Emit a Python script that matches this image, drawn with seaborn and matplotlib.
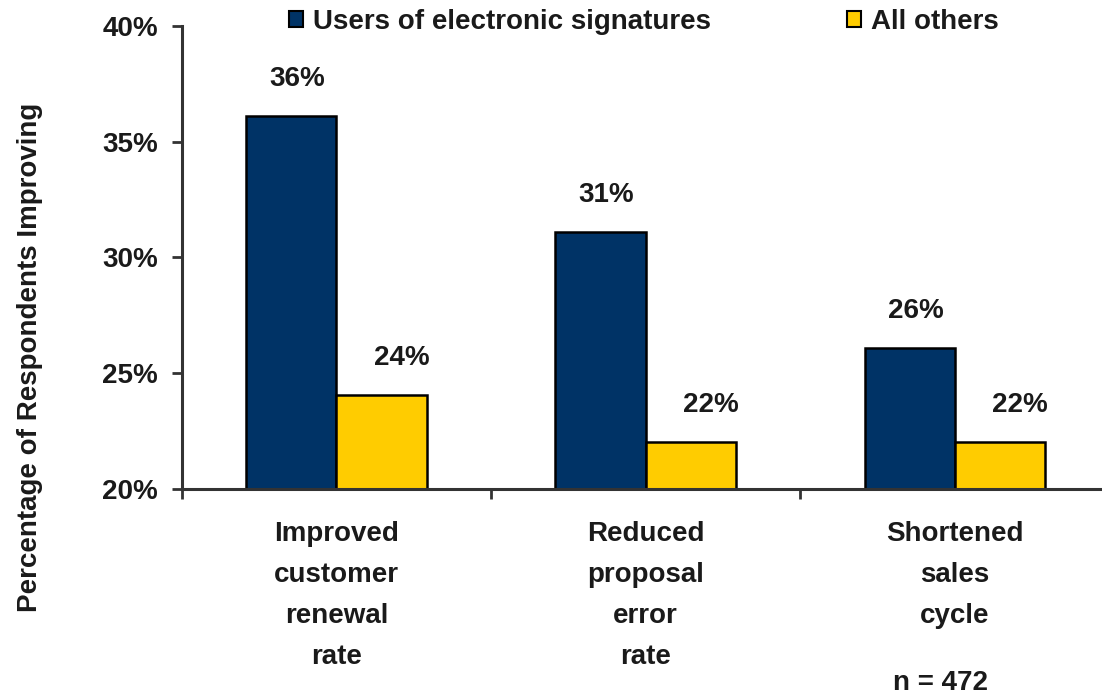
import pandas as pd
import matplotlib.pyplot as plt
import seaborn as sns
from matplotlib.patches import Patch
from matplotlib.ticker import FixedLocator, FuncFormatter

categories = ["Improved\ncustomer\nrenewal\nrate",
              "Reduced\nproposal\nerror\nrate",
              "Shortened\nsales\ncycle"]
users_esig = [36.1, 31.1, 26.1]
all_others = [24.05, 22.05, 22.05]
series_names = ["Users of electronic signatures", "All others"]
colors = ["#003366", "#FFCC00"]
y_ticks = [20, 25, 30, 35, 40]

df = pd.DataFrame({
    "category": categories * 2,
    "value": users_esig + all_others,
    "group": [series_names[0]] * 3 + [series_names[1]] * 3,
})

sns.set_style("white")
plt.rcParams['font.family'] = ['Liberation Sans', 'DejaVu Sans']
plt.rcParams['font.weight'] = 'bold'
plt.rcParams['text.color'] = '#1a1a1a'
FS = 20

fig = plt.figure(figsize=(11.02, 6.98), dpi=100)
ax = fig.add_axes([0.165, 0.2994, 0.8419, 0.6634])

sns.barplot(data=df, x="category", y="value", hue="group",
            palette=colors, width=0.585, edgecolor="black", linewidth=1.8,
            saturation=1, ax=ax, legend=False)

ax.set_ylim(20, 40)
ax.set_xlim(-0.5, 2.5)
ax.yaxis.set_major_locator(FixedLocator(y_ticks))
ax.yaxis.set_major_formatter(FuncFormatter(lambda v, p: f"{v:.0f}%"))

# category boundaries get the tick marks, names sit in the middle
ax.set_xticks([-0.5, 0.5, 1.5, 2.5])
ax.set_xticklabels([])
ax.set_xticks([0, 1, 2], minor=True)
ax.set_xticklabels(categories, minor=True, fontsize=FS, fontweight="bold",
                   linespacing=1.75, color="#1a1a1a")
ax.tick_params(axis="x", which="minor", bottom=False, pad=21)
ax.tick_params(axis="x", which="major", bottom=True, length=7, width=2,
               color="#333333", direction="out")
ax.tick_params(axis="y", left=True, length=7, width=2, color="#333333",
               direction="out", labelsize=FS, pad=10, labelcolor="#1a1a1a")
for lab in ax.get_yticklabels():
    lab.set_fontweight("bold")

sns.despine(ax=ax)
for s in ["left", "bottom"]:
    ax.spines[s].set_linewidth(2.2)
    ax.spines[s].set_color("#333333")

ax.set_xlabel("")
ax.set_ylabel("")
fig.text(30 / 1102, 1 - 357 / 698, "Percentage of Respondents Improving",
         rotation=90, ha="center", va="center", fontsize=FS, fontweight="bold")

# value labels
for cont, dx in zip(ax.containers, [6, 20]):
    for bar in cont:
        h = bar.get_height()
        ax.annotate(f"{h:.0f}%", (bar.get_x() + bar.get_width() / 2, h),
                    xytext=(dx, 24), textcoords="offset pixels",
                    ha="center", va="bottom", fontsize=FS, fontweight="bold")

handles = [Patch(facecolor=c, edgecolor="black", linewidth=1.5) for c in colors]
ax.legend(handles, series_names, loc="center left", bbox_to_anchor=(0.089, 1.009),
          ncol=2, frameon=False, handlelength=0.5, handleheight=0.5,
          handletextpad=0.35, columnspacing=4.9,
          prop={"weight": "bold", "size": FS})

fig.text(0.853, 0.022, "n = 472", ha="center", va="center", fontsize=FS,
         fontweight="bold")

fig.savefig("out.png", dpi=100)
